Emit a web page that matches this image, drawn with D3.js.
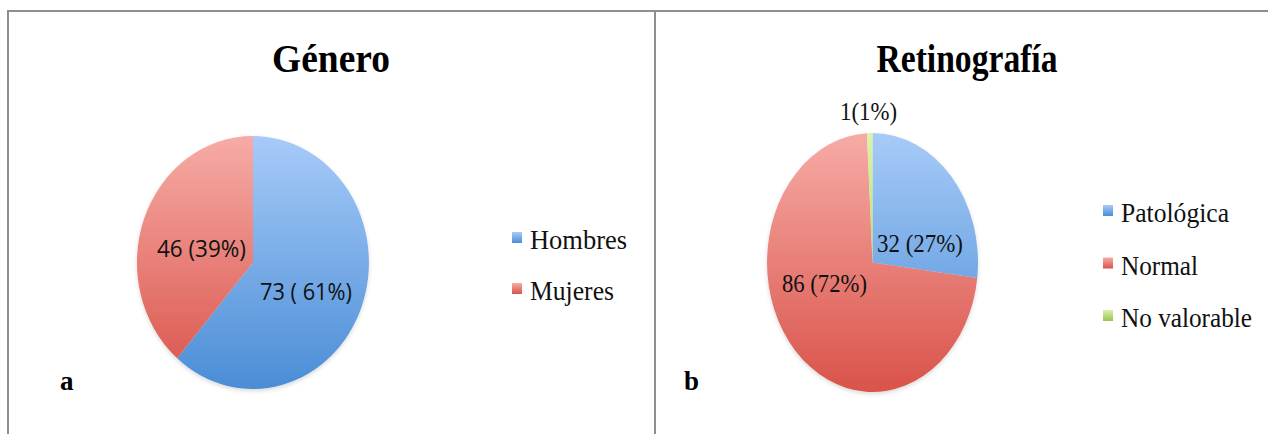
<!DOCTYPE html>
<html>
<head>
<meta charset="utf-8">
<script src="https://cdn.jsdelivr.net/npm/d3@7"></script>
<style>
  html, body { margin: 0; padding: 0; background: #fff; }
  svg { display: block; }
</style>
</head>
<body>
<svg id="chart" width="1268" height="434"></svg>
<script>
// ---------- data ----------
const generoCategories = ["Hombres", "Mujeres"];
const generoValues = [73, 46];
const generoLabels = ["73 ( 61%)", "46 (39%)"];

const retinoCategories = ["Patológica", "Normal", "No valorable"];
const retinoValues = [32, 86, 1];
const retinoLabels = ["32 (27%)", "86 (72%)", "1(1%)"];

const titles = ["Género", "Retinografía"];
const panelLetters = ["a", "b"];

// ---------- styling ----------
const palette = {
  blue:  ["#a7cbf8", "#4a8dd6"],
  red:   ["#f7aba6", "#d9534a"],
  green: ["#dcf3a9", "#98c452"]
};

const svg = d3.select("#chart");
const defs = svg.append("defs");

Object.entries(palette).forEach(([k, c]) => {
  const g = defs.append("linearGradient")
    .attr("id", "grad-" + k)
    .attr("gradientUnits", "userSpaceOnUse")
    .attr("x1", 0).attr("x2", 0).attr("y1", -1).attr("y2", 1);
  g.append("stop").attr("offset", "0%").attr("stop-color", c[0]);
  g.append("stop").attr("offset", "100%").attr("stop-color", c[1]);
  const gl = defs.append("linearGradient")
    .attr("id", "lgrad-" + k)
    .attr("x1", 0).attr("x2", 0).attr("y1", 0).attr("y2", 1);
  gl.append("stop").attr("offset", "0%").attr("stop-color", c[0]);
  gl.append("stop").attr("offset", "100%").attr("stop-color", c[1]);
});

const shadow = defs.append("filter").attr("id", "shadow")
  .attr("x", "-10%").attr("y", "-10%").attr("width", "120%").attr("height", "120%");
shadow.append("feDropShadow").attr("dx", 0).attr("dy", 2).attr("stdDeviation", 2)
  .attr("flood-color", "#000").attr("flood-opacity", 0.15);

// ---------- frame ----------
const frame = svg.append("g").attr("stroke", "#8e8e8e").attr("stroke-width", 2).attr("fill", "none");
frame.append("line").attr("x1", 7).attr("x2", 1268).attr("y1", 11).attr("y2", 11);
frame.append("line").attr("x1", 8).attr("x2", 8).attr("y1", 10).attr("y2", 434);
frame.append("line").attr("x1", 655).attr("x2", 655).attr("y1", 10).attr("y2", 434);

// ---------- pie drawing ----------
function drawPie(cfg) {
  const pie = d3.pie().sort(null).value(d => d)
    .startAngle(0).endAngle(2 * Math.PI);
  const arcs = pie(cfg.values);
  const arc = d3.arc().innerRadius(0).outerRadius(1);

  const wrap = svg.append("g").attr("filter", "url(#shadow)");
  const g = wrap.append("g")
    .attr("transform", `translate(${cfg.cx},${cfg.cy}) scale(${cfg.rx},${cfg.ry})`);
  g.selectAll("path").data(arcs).join("path")
    .attr("d", arc)
    .attr("fill", (d, i) => `url(#grad-${cfg.colors[i]})`);

  // data labels
  svg.append("g").selectAll("text").data(arcs).join("text")
    .attr("x", (d, i) => cfg.cx + cfg.labelPos[i][0] * cfg.rx)
    .attr("y", (d, i) => cfg.cy + cfg.labelPos[i][1] * cfg.ry)
    .attr("text-anchor", "middle")
    .attr("font-family", cfg.labelFont)
    .attr("font-size", cfg.labelSize)
    .attr("textLength", (d, i) => cfg.labelLen[i])
    .attr("lengthAdjust", "spacingAndGlyphs")
    .attr("fill", "#111")
    .text((d, i) => cfg.labels[i]);

  // title
  svg.append("text")
    .attr("x", cfg.titleX).attr("y", 72)
    .attr("text-anchor", "middle")
    .attr("font-family", "'Liberation Serif', 'DejaVu Serif', serif")
    .attr("font-weight", "bold")
    .attr("font-size", 41)
    .attr("textLength", cfg.titleLen)
    .attr("lengthAdjust", "spacingAndGlyphs")
    .attr("fill", "#000")
    .text(cfg.title);

  // legend
  const lg = svg.append("g");
  const items = lg.selectAll("g").data(cfg.categories).join("g")
    .attr("transform", (d, i) => `translate(${cfg.legX},${cfg.legY + i * cfg.legStep})`);
  items.append("rect")
    .attr("x", 0).attr("y", -17).attr("width", 10).attr("height", 11)
    .attr("fill", (d, i) => `url(#lgrad-${cfg.colors[i]})`);
  items.append("text")
    .attr("x", 18).attr("y", 0)
    .attr("font-family", "'Liberation Serif', 'DejaVu Serif', serif")
    .attr("font-size", 28)
    .attr("textLength", (d, i) => cfg.legLen[i])
    .attr("lengthAdjust", "spacingAndGlyphs")
    .attr("fill", "#111")
    .text(d => d);

  // panel letter
  svg.append("text")
    .attr("x", cfg.letterX).attr("y", 390)
    .attr("font-family", "'Liberation Serif', 'DejaVu Serif', serif")
    .attr("font-weight", "bold")
    .attr("font-size", 27)
    .attr("fill", "#000")
    .text(cfg.letter);
}

drawPie({
  values: generoValues, categories: generoCategories, labels: generoLabels,
  colors: ["blue", "red"],
  cx: 253, cy: 262.5, rx: 116, ry: 126.5,
  labelPos: [[0.457, 0.296], [-0.444, -0.043]],
  labelFont: "'Open Sans', 'Noto Sans', sans-serif", labelSize: 24,
  labelLen: [92, 89],
  title: titles[0], titleX: 331, titleLen: 118,
  legX: 512, legY: 249, legStep: 51, legLen: [97, 84],
  letter: panelLetters[0], letterX: 60
});

drawPie({
  values: retinoValues, categories: retinoCategories, labels: retinoLabels,
  colors: ["blue", "red", "green"],
  cx: 872.5, cy: 262.5, rx: 105.5, ry: 129.5,
  labelPos: [[0.450, -0.081], [-0.455, 0.228], [-0.038, -1.100]],
  labelFont: "'Liberation Serif', 'DejaVu Serif', serif", labelSize: 26,
  labelLen: [86, 85, 57],
  title: titles[1], titleX: 967, titleLen: 181,
  legX: 1103, legY: 222, legStep: 52.5, legLen: [108, 77, 131],
  letter: panelLetters[1], letterX: 684
});
</script>
</body>
</html>
